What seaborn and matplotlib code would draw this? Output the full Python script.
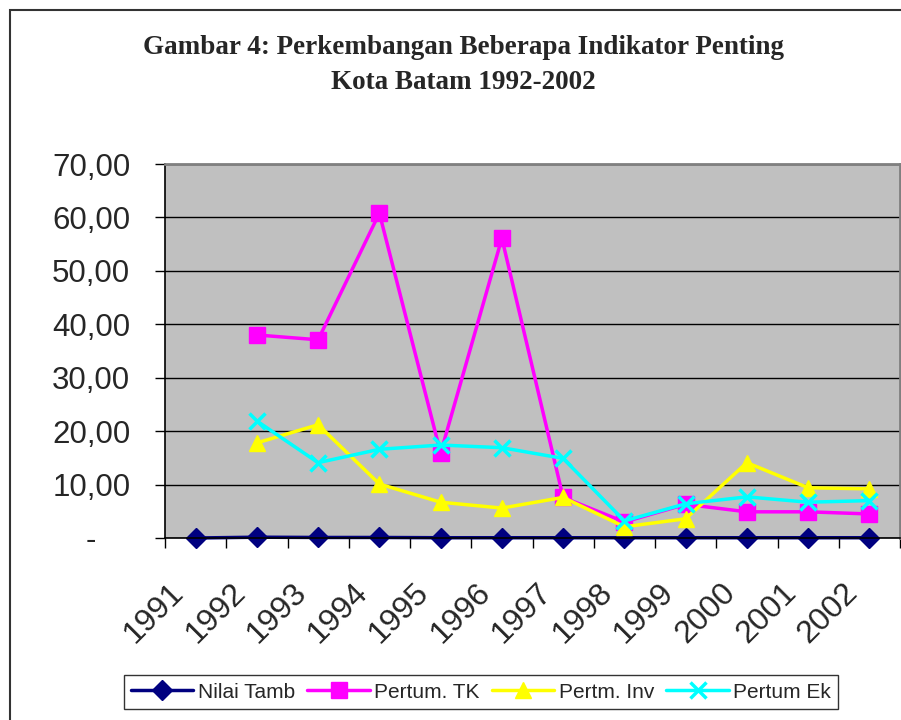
import numpy as np
import pandas as pd
import matplotlib.pyplot as plt
import seaborn as sns
from matplotlib.patches import Rectangle
from matplotlib.transforms import ScaledTranslation

# Data
years = ['1991', '1992', '1993', '1994', '1995', '1996',
         '1997', '1998', '1999', '2000', '2001', '2002']
nilai_tamb = [0.0, 0.15, 0.1, 0.1, 0.05, 0.05, 0.05, 0.05, 0.05, 0.05, 0.05, 0.05]
pertum_tk = [np.nan, 38.0, 37.1, 60.8, 15.9, 56.1, 7.6, 3.0, 6.3, 4.9, 4.9, 4.5]
pertm_inv = [np.nan, 17.8, 21.2, 10.1, 6.7, 5.6, 7.6, 2.1, 3.6, 14.1, 9.4, 9.2]
pertum_ek = [np.nan, 21.9, 14.1, 16.6, 17.4, 16.9, 14.9, 3.2, 6.4, 7.7, 6.7, 7.0]

series = ['Nilai Tamb', 'Pertum. TK', 'Pertm. Inv', 'Pertum Ek']
colors = ['#000080', '#FF00FF', '#FFFF00', '#00FFFF']
markers = ['D', 's', '^', 'x']
msizes = [10, 11, 12, 11]
yticks = [0, 10, 20, 30, 40, 50, 60, 70]
ytick_labels = ['-', '10,00', '20,00', '30,00', '40,00', '50,00', '60,00', '70,00']

sns.set_style('white')
plt.rcParams['font.family'] = ['Liberation Sans', 'DejaVu Sans']

fig = plt.figure(figsize=(9.01, 7.2), dpi=100)
W, H = 901, 720
ax = fig.add_axes([165 / W, 1 - 538 / H, (900 - 165) / W, (538 - 164) / H])
ax.set_facecolor('#C0C0C0')

pos = np.arange(len(years))
values = [nilai_tamb, pertum_tk, pertm_inv, pertum_ek]
for name, vals, c, m, ms in zip(series, values, colors, markers, msizes):
    d = pd.DataFrame({'pos': pos, 'val': vals}).dropna()
    sns.lineplot(data=d, x='pos', y='val', ax=ax, color=c, marker=m,
                 markersize=ms, markeredgecolor=c,
                 markeredgewidth=2.5 if m == 'x' else 1,
                 linewidth=2.5, label=name, clip_on=False)

ax.set_xlim(-0.5, len(years) - 0.5)
ax.set_ylim(0, 70)
ax.set_xlabel('')
ax.set_ylabel('')

ax.set_yticks(yticks)
ax.set_yticklabels(ytick_labels, fontsize=22.5)
ax.tick_params(axis='y', length=7, width=1, color='black', pad=18, left=True)
ax.yaxis.grid(True, color='black', linewidth=1)
ax.set_axisbelow(True)

ax.set_xticks(pos)
ax.set_xticklabels(years, fontsize=23, rotation=45, ha='right', va='center',
                   rotation_mode='anchor')
ax.set_xticks(np.arange(-0.5, len(years), 1), minor=True)
ax.tick_params(axis='x', which='major', length=0, pad=36)
ax.tick_params(axis='x', which='minor', length=7, width=1, color='black',
               bottom=True)

for lbl in ax.get_xticklabels():
    lbl.set_transform(lbl.get_transform() +
                      ScaledTranslation(-16 / 100, 0, fig.dpi_scale_trans))
zero_lbl = ax.get_yticklabels()[0]
zero_lbl.set_transform(zero_lbl.get_transform() +
                       ScaledTranslation(-34 / 100, 0, fig.dpi_scale_trans))

for side in ['left', 'bottom']:
    ax.spines[side].set_color('black')
    ax.spines[side].set_linewidth(1.2)
for side in ['top', 'right']:
    ax.spines[side].set_color('#808080')
    ax.spines[side].set_linewidth(2)

handles, labels = ax.get_legend_handles_labels()
ax.get_legend().remove()
leg = fig.legend(handles, labels, loc='lower center', ncol=4,
                 bbox_to_anchor=(481 / W, 11 / H), fontsize=15,
                 frameon=True, fancybox=False, handlelength=3,
                 handletextpad=0.2, columnspacing=0.6, borderpad=0.35,
                 borderaxespad=0)
leg.get_frame().set_edgecolor('black')
leg.get_frame().set_linewidth(1)

fig.text(463 / W, 1 - 65 / H,
         'Gambar 4: Perkembangan Beberapa Indikator Penting\nKota Batam 1992-2002',
         ha='center', va='center', fontsize=19.5, fontweight='bold',
         family='Liberation Serif', linespacing=1.5)

fig.add_artist(Rectangle((10 / W, -0.1), 1.2, 1.1 - 10 / H,
                         transform=fig.transFigure, fill=False,
                         edgecolor='#333333', linewidth=1.5))

fig.savefig('out.png', dpi=100)
